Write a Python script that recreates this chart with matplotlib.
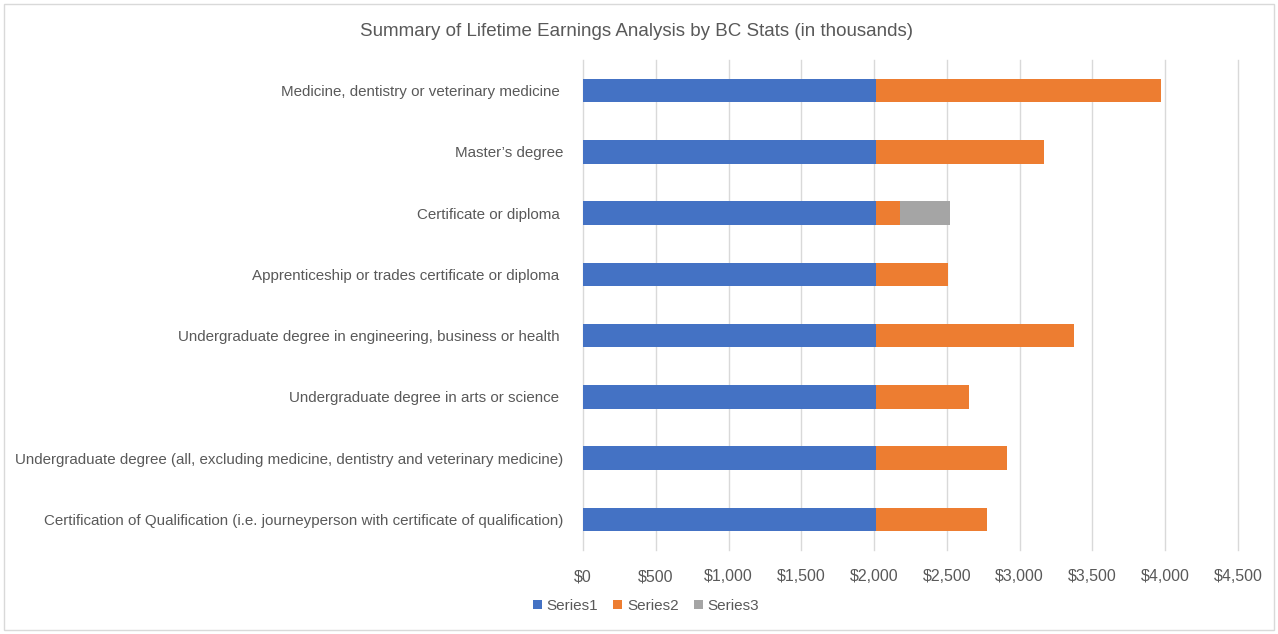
import matplotlib.pyplot as plt
import matplotlib.ticker as mticker
from matplotlib.patches import Rectangle
import numpy as np

plt.rcParams['font.family'] = ['Liberation Sans', 'DejaVu Sans']

categories = [
    "Medicine, dentistry or veterinary medicine ",
    "Master\u2019s degree",
    "Certificate or diploma ",
    "Apprenticeship or trades certificate or diploma ",
    "Undergraduate degree in engineering, business or health ",
    "Undergraduate degree in arts or science ",
    "Undergraduate degree (all, excluding medicine, dentistry and veterinary medicine)",
    "Certification of Qualification (i.e. journeyperson with certificate of qualification)",
]
series1 = [2010, 2010, 2010, 2010, 2010, 2010, 2010, 2010]
series2 = [1964, 1155, 166, 501, 1362, 642, 903, 768]
series3 = [0, 0, 344, 0, 0, 0, 0, 0]

colors = ['#4472C4', '#ED7D31', '#A5A5A5']
text_color = '#595959'

fig = plt.figure(figsize=(12.78, 6.34), dpi=100)
ax = fig.add_axes([583 / 1278, 84 / 634, 655 / 1278, 490 / 634])

y = np.arange(len(categories))
h = 0.38
s1 = np.array(series1)
s2 = np.array(series2)
s3 = np.array(series3)
ax.barh(y, s1, height=h, color=colors[0], label='Series1', zorder=3)
ax.barh(y, s2, left=s1, height=h, color=colors[1], label='Series2', zorder=3)
ax.barh(y, s3, left=s1 + s2, height=h, color=colors[2], label='Series3', zorder=3)

ax.set_xlim(0, 4500)
ax.set_ylim(len(categories) - 0.5, -0.5)
ax.set_xticks(np.arange(0, 4501, 500))
ax.xaxis.set_major_formatter(mticker.FuncFormatter(lambda v, p: f'${v:,.0f}'))
ax.set_yticks(y)
ax.set_yticklabels(categories, fontsize=10.9)
ax.tick_params(axis='x', length=0, colors=text_color, labelsize=11.5, pad=14)
ax.tick_params(axis='y', length=0, colors=text_color, pad=14)
ax.grid(axis='x', color='#d9d9d9', linewidth=1, zorder=0)
for gl in ax.get_xgridlines():
    gl.set_clip_on(False)
for sp in ax.spines.values():
    sp.set_visible(False)

fig.text(636 / 1278, 1 - 31 / 634,
         'Summary of Lifetime Earnings Analysis by BC Stats (in thousands)',
         ha='center', va='center', fontsize=13.5, color=text_color)

fig.legend(loc='center', bbox_to_anchor=(646 / 1278, 1 - 606 / 634), ncol=3,
           frameon=False, fontsize=11, handlelength=0.6, handleheight=0.6,
           handletextpad=0.3, columnspacing=1.0, labelcolor=text_color)

fig.patches.append(Rectangle((4 / 1278, 4 / 634), 1270 / 1278, 626 / 634,
                             transform=fig.transFigure, fill=False,
                             edgecolor='#d9d9d9', linewidth=1))

fig.savefig('out.png', dpi=100)
